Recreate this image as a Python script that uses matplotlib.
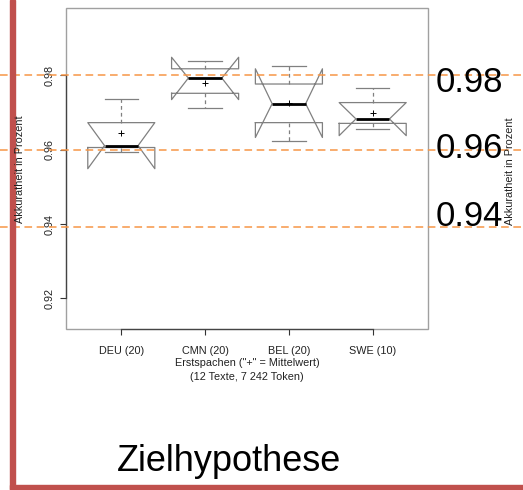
import matplotlib
matplotlib.use("Agg")
import matplotlib.pyplot as plt
import matplotlib.transforms as mtransforms
from matplotlib.patches import Rectangle
from matplotlib.lines import Line2D

plt.rcParams["font.family"] = ["Liberation Sans", "DejaVu Sans"]

# Akkuratheit je Erstsprache (Zielhypothese)
labels = ["DEU (20)", "CMN (20)", "BEL (20)", "SWE (10)"]
whislo = [0.9595, 0.9712, 0.9624, 0.9656]
q1 = [0.9606, 0.9752, 0.9673, 0.9671]
med = [0.9611, 0.9793, 0.9724, 0.9683]
q3 = [0.9673, 0.9818, 0.9777, 0.9727]
whishi = [0.9737, 0.9840, 0.9826, 0.9766]
cilo = [0.9549, 0.9735, 0.9633, 0.9638]
cihi = [0.9673, 0.9849, 0.9818, 0.9727]
means = [0.9646, 0.9780, 0.9725, 0.9699]

yticks = [0.92, 0.94, 0.96, 0.98]
marks = [0.98, 0.96, 0.9392]
mark_labels = ["0.98", "0.96", "0.94"]

W, H = 523, 490
fig = plt.figure(figsize=(W / 100, H / 100), dpi=100)
ax = fig.add_axes([66 / W, 1 - 329 / H, 362 / W, 321 / H])

stats = []
for i in range(len(labels)):
    stats.append(dict(label=labels[i], whislo=whislo[i], q1=q1[i], med=med[i],
                      q3=q3[i], whishi=whishi[i], cilo=cilo[i], cihi=cihi[i],
                      mean=means[i], fliers=[]))

grey = "#808080"
ax.bxp(stats, positions=range(1, len(labels) + 1), widths=0.8,
       shownotches=True, showmeans=True, showfliers=False,
       boxprops=dict(color=grey, lw=0.9),
       whiskerprops=dict(color=grey, lw=0.9, ls=(0, (3, 2.5))),
       capprops=dict(color=grey, lw=0.9),
       medianprops=dict(color="black", lw=2.0, solid_capstyle="butt"),
       meanprops=dict(marker="+", markersize=5, markeredgecolor="black",
                      markeredgewidth=0.7))

ax.set_xlim(0.34, 4.66)
ax.set_ylim(0.91173, 0.99817)
ax.set_yticks(yticks)
ax.set_yticklabels([f"{v:.2f}" for v in yticks], rotation=90, va="center")
ax.tick_params(axis="both", labelsize=7.8, colors="#333333", length=4.5,
               width=0.8, labelcolor="#222222")
ax.tick_params(axis="y", pad=4)
ax.tick_params(axis="x", pad=8)

for side in ["top", "right"]:
    ax.spines[side].set_visible(False)
ax.spines["left"].set_bounds(yticks[0], yticks[-1])
ax.spines["bottom"].set_bounds(1, len(labels))
for side in ["left", "bottom"]:
    ax.spines[side].set_color("#444444")
    ax.spines[side].set_linewidth(0.9)
ax.add_patch(Rectangle((0, 0), 1, 1, transform=ax.transAxes, fill=False,
                       ec="#a0a0a0", lw=1.0, clip_on=False, zorder=0))

ax.set_xlabel('Erstspachen ("+" = Mittelwert)\n(12 Texte, 7 242 Token)',
              fontsize=7.8, color="#222222", labelpad=1.5, linespacing=1.4)

# gestrichelte Hilfslinien über die ganze Folie
trans = mtransforms.blended_transform_factory(fig.transFigure, ax.transData)
for v in marks:
    fig.add_artist(Line2D([0, 1], [v, v], transform=trans, color="#f79646",
                          lw=1.1, ls=(0, (5, 3)), zorder=5))

for v, t, base in zip(marks, mark_labels, [92, 158, 226]):
    fig.text(436 / W, 1 - base / H, t, fontsize=25, va="baseline",
             ha="left", color="black", zorder=6)

fig.text(20 / W, 1 - 169 / H, "Akkuratheit in Prozent", rotation=90,
         fontsize=7.8, color="#222222", ha="center", va="center", zorder=9)
fig.text(510 / W, 1 - 171 / H, "Akkuratheit in Prozent", rotation=90,
         fontsize=7.8, color="#222222", ha="center", va="center", zorder=7)

fig.text(229 / W, 1 - 471 / H, "Zielhypothese", fontsize=26, ha="center",
         va="baseline", color="black")

# roter Folienrahmen
red = "#c0504d"
fig.add_artist(Rectangle((10 / W, 0), 5 / W, 1, transform=fig.transFigure,
                         color=red, zorder=8))
fig.add_artist(Rectangle((10 / W, 1 - 489 / H), 1 - 10 / W, 4 / H,
                         transform=fig.transFigure, color=red, zorder=8))

fig.savefig("out.png", dpi=100)
